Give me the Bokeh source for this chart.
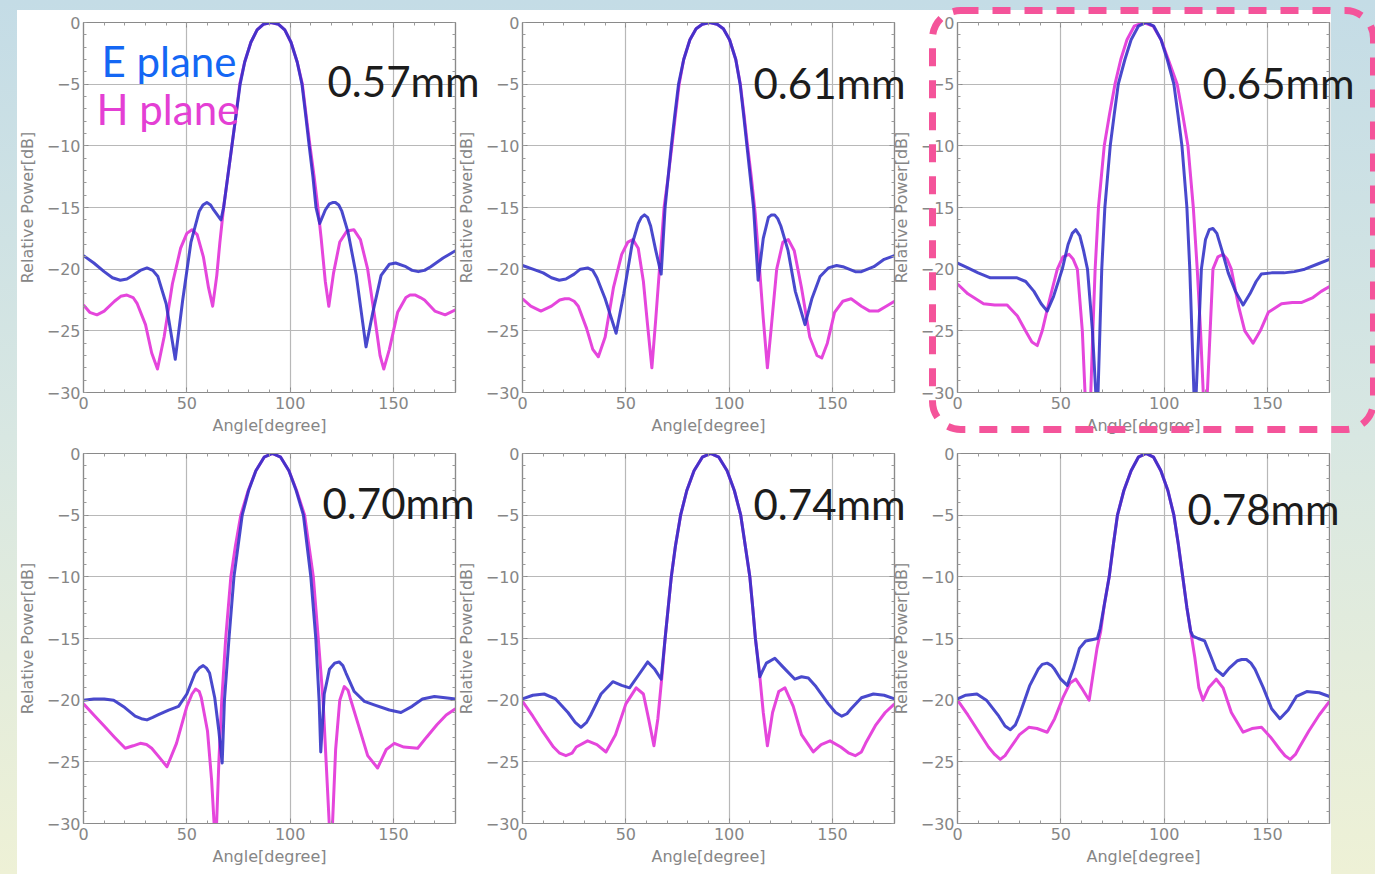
from bokeh.plotting import figure
from bokeh.layouts import row, column
from bokeh.models import Range1d, FixedTicker, LinearAxis, Label, BoxAnnotation
from bokeh.embed import file_html
from bokeh.resources import INLINE

# ---------------- data (angle in degree, relative power in dB) ----------------
# 0.57 mm
e057_ang = [0, 5, 10, 14, 17.8, 21, 24, 27.5, 30.7, 33.5, 36, 40, 44.4, 48, 52, 56, 57.8, 59.7, 61.5, 63, 66.5, 67.8, 69.8, 71.8, 73.8, 75.8,
            78, 81, 84, 87, 90.7, 94.4, 97.4, 100.4, 103.4, 105.7, 107.5, 109.2, 111, 112.5, 114.3, 117, 119, 120.5, 121.9, 123.5, 125, 128,
            132, 136.7, 140, 144, 148, 151, 156, 159, 162, 165, 168, 174, 180]
e057_db = [-18.9, -19.5, -20.2, -20.7, -20.9, -20.8, -20.5, -20.1, -19.9, -20.1, -20.6, -22.8, -27.3, -22.5, -17.8, -15.3, -14.8, -14.6, -14.8, -15.2, -16.0, -15.0, -12.5, -10.0, -7.5, -5.0,
           -3.2, -1.6, -0.6, -0.15, 0, -0.15, -0.6, -1.6, -3.2, -5.0, -7.5, -10.0, -12.5, -15.0, -16.3, -15.2, -14.7, -14.6, -14.6, -14.8, -15.3, -17.0,
           -20.5, -26.3, -23.5, -20.5, -19.6, -19.5, -19.8, -20.1, -20.2, -20.1, -19.8, -19.1, -18.5]
h057_ang = [0, 3, 6.5, 10, 15, 18, 21, 24, 26, 30, 33, 35.8, 39, 43, 47, 50, 52.5, 55, 58, 60.5, 62.5, 64.5,
            66, 67.8, 69.8, 71.8, 73.8, 75.6, 78, 81, 84, 87, 90.7, 94.4, 97.4, 100.4, 103.4, 105.9, 107.7, 109.6, 111.6, 113.4,
            115, 117, 118.7, 121, 124, 127.5, 130.8, 134, 137.5, 141, 143.5, 145.3, 148, 152, 156, 158, 160.6, 163, 165, 170, 175, 180]
h057_db = [-22.9, -23.5, -23.7, -23.4, -22.6, -22.2, -22.1, -22.3, -22.8, -24.5, -26.8, -28.1, -25.5, -21.2, -18.3, -17.1, -16.8, -17.2, -19.0, -21.5, -23.0, -20.5,
           -17.8, -15.0, -12.5, -10.0, -7.5, -5.0, -3.2, -1.6, -0.6, -0.15, 0, -0.15, -0.6, -1.6, -3.2, -5.0, -7.5, -10.0, -12.5, -15.0,
           -17.5, -21.0, -23.0, -20.3, -17.8, -16.9, -16.8, -17.6, -20.0, -24.0, -27.0, -28.1, -26.5, -23.5, -22.3, -22.1, -22.1, -22.3, -22.5, -23.4, -23.7, -23.3]

# 0.61 mm
e061_ang = [0, 5, 10, 14, 17.8, 21, 25, 28, 31.5, 34, 36, 40, 45.3, 49, 53, 56, 57.5, 59, 60.5, 62, 64.5, 67.1, 69, 70.5, 72, 73.7,
            75.5, 78, 81, 84, 87, 90.6, 94.2, 97.2, 100.2, 103.2, 105.3, 107, 108.6, 110.2, 111.8, 114, 116.5, 119, 120.5, 122, 123.5, 125,
            128.5, 132, 136.7, 140, 144, 148, 152, 155, 158, 161, 164, 170, 175, 180]
e061_db = [-19.7, -20.0, -20.3, -20.7, -20.9, -20.8, -20.4, -20.0, -19.9, -20.1, -20.7, -22.4, -25.2, -22.0, -18.0, -16.3, -15.8, -15.6, -15.8, -16.5, -18.5, -20.4, -15.0, -12.5, -10.0, -7.5,
           -5.0, -3.0, -1.4, -0.5, -0.15, 0, -0.15, -0.5, -1.4, -3.0, -5.0, -7.5, -10.0, -12.5, -15.0, -20.9, -17.5, -15.8, -15.6, -15.6, -15.9, -16.5,
           -18.5, -21.8, -24.5, -22.4, -20.6, -19.9, -19.7, -19.8, -20.0, -20.2, -20.2, -19.8, -19.2, -18.9]
h061_ang = [0, 4, 8.9, 14, 18, 20.5, 22.6, 25, 27, 31, 34, 36.7, 40, 44, 48, 51, 53.4, 56, 58.5, 60.5, 62.6, 64.5,
            66.5, 68.5, 70.5, 72.3, 74, 75.8, 78, 81, 84, 87, 90.6, 94.2, 97.2, 100.2, 103.2, 105.4, 107.2, 108.9, 110.7, 112.6,
            114.5, 116.5, 118.5, 120.5, 123, 126, 128.6, 131.5, 135, 139, 142.5, 144.8, 147.5, 151, 155, 159, 164, 168, 172, 176, 180]
h061_db = [-22.4, -23.0, -23.4, -23.0, -22.5, -22.4, -22.4, -22.6, -23.0, -24.8, -26.5, -27.1, -25.5, -21.5, -18.8, -17.8, -17.6, -18.3, -21.0, -24.5, -28.0, -24.0,
           -19.5, -15.0, -12.5, -10.0, -7.5, -5.0, -3.0, -1.4, -0.5, -0.15, 0, -0.15, -0.5, -1.4, -3.0, -5.0, -7.5, -10.0, -12.5, -15.5,
           -19.5, -24.0, -28.0, -24.5, -20.0, -17.8, -17.6, -18.5, -21.5, -25.5, -27.0, -27.2, -26.0, -23.5, -22.6, -22.4, -23.0, -23.4, -23.4, -23.0, -22.6]

# 0.65 mm
e065_ang = [0, 5, 10, 15.9, 22, 28.8, 33, 37, 40.5, 43.4, 46.5, 50.7, 53.5, 55.5, 57.2, 59.2, 61, 62.9, 65.3, 66.9,
            67.5, 68.0, 68.9, 69.8, 71.3, 73.9, 75.8, 77.8, 81, 84, 87.5, 91.2, 95, 98.5, 101.5, 104.7, 106.7, 108.6, 111.0, 112.4,
            113.4, 114.4, 115.0, 115.5, 118, 120, 121.8, 123.6, 125.5, 128, 131, 134.5, 138.2, 141.5, 144.5, 147, 152, 158, 163, 168,
            174, 180]
e065_db = [-19.5, -19.9, -20.3, -20.7, -20.7, -20.7, -21.0, -21.8, -22.8, -23.4, -22.2, -20.0, -18.0, -17.1, -16.8, -17.3, -18.5, -20.0, -25.0, -30.0,
           -40, -30.0, -25.0, -20.0, -15.0, -10.0, -7.5, -5.0, -3.0, -1.4, -0.3, 0, -0.3, -1.4, -3.0, -5.0, -7.5, -10.0, -15.0, -20.0,
           -25.0, -30.0, -40, -30.0, -20.0, -17.6, -16.8, -16.7, -17.1, -18.5, -20.3, -21.8, -22.9, -22.0, -21.0, -20.4, -20.3, -20.3, -20.2, -20.0,
           -19.6, -19.2]
h065_ang = [0, 5, 12.6, 18, 24, 29, 32.9, 36, 38.6, 41, 44.5, 48.3, 51, 54, 56, 58, 60.4, 61.7, 62.8, 64.5,
            65.5, 66.6, 68.2, 71, 73.5, 76.2, 79, 82, 85.5, 90.1, 94.7, 98.5, 102, 106.3, 109, 111.5, 114.1, 116, 117.6, 118.9,
            119.9, 120.9, 123.6, 126, 128.5, 130.5, 132.5, 136, 139, 143, 146.5, 150.4, 156.8, 162, 166.6, 172, 176, 180]
h065_db = [-21.2, -22.0, -22.8, -22.9, -22.9, -23.8, -25.0, -25.9, -26.2, -25.0, -22.5, -20.0, -19.0, -18.8, -19.2, -20.0, -25.0, -30.0, -40, -30.0,
           -25.0, -20.0, -15.0, -10.0, -7.5, -5.0, -3.0, -1.4, -0.3, 0, -0.3, -1.4, -3.0, -5.0, -7.5, -10.0, -15.0, -20.0, -25.0, -30.0,
           -40, -30.0, -20.0, -19.0, -18.8, -19.2, -20.0, -23.0, -25.0, -26.0, -25.0, -23.5, -22.8, -22.7, -22.7, -22.3, -21.8, -21.4]

# 0.70 mm
e070_ang = [0, 5, 10, 14.6, 20, 25, 28, 30.7, 33.5, 36, 41.2, 46, 50, 54, 56, 57.9, 59.5, 61, 63.5, 65.5, 67.1, 68.2, 70.4, 72.8,
            74.8, 76.8, 79.9, 83.4, 87.4, 91.4, 95.4, 99.4, 102.9, 106.4, 108.2, 110, 112.4, 114, 114.8, 116.5, 119, 121.5, 123.7, 125.5, 127,
            131, 135.9, 141, 148, 153.6, 159, 164, 169.8, 175, 180]
e070_db = [-20.0, -19.9, -19.9, -20.0, -20.6, -21.3, -21.5, -21.6, -21.4, -21.2, -20.8, -20.5, -19.5, -17.8, -17.4, -17.2, -17.4, -17.8, -19.8, -22.5, -25.1, -20.0, -15.0, -10.0,
           -7.5, -5.0, -3.0, -1.4, -0.3, 0, -0.3, -1.4, -3.0, -5.0, -7.5, -10.0, -15.0, -20.0, -24.2, -19.5, -17.5, -17.0, -16.9, -17.2, -17.8,
           -19.3, -20.1, -20.4, -20.8, -21.0, -20.5, -19.9, -19.7, -19.8, -19.9]
h070_ang = [0, 5, 10, 15, 20.2, 24, 27.5, 30.5, 33, 37, 40.4, 45, 50, 52.5, 54.2, 56, 57, 60, 62, 63.2, 63.8, 64.4,
            65.5, 66.9, 68.8, 71.3, 73.5, 76.1, 79.7, 83.4, 87.4, 91.4, 95.4, 99.4, 103.1, 107.0, 109.1, 111.2, 113.6, 115.9, 117.4, 118.9,
            119.6, 120.5, 122, 124, 126.2, 128, 129, 133, 137.5, 142.3, 146.5, 150.4, 155, 161.7, 166, 171, 175.5, 180]
h070_db = [-20.3, -21.2, -22.1, -23.0, -23.9, -23.7, -23.5, -23.6, -23.9, -24.7, -25.4, -23.5, -20.5, -19.5, -19.1, -19.3, -19.8, -22.5, -26.5, -30.0, -40, -30.0,
           -25.0, -20.0, -15.0, -10.0, -7.5, -5.0, -3.0, -1.4, -0.3, 0, -0.3, -1.4, -3.0, -5.0, -7.5, -10.0, -15.0, -20.0, -25.0, -30.0,
           -40, -30.0, -24.0, -20.0, -18.9, -19.2, -19.8, -22.0, -24.5, -25.5, -24.0, -23.5, -23.8, -23.9, -23.0, -22.0, -21.2, -20.7]

# 0.74 mm
e074_ang = [0, 5, 10.5, 16, 22, 25.5, 28.3, 31, 33, 38, 43.7, 48, 51.8, 56, 60.6, 64, 67.1, 69, 70.5, 72, 74, 76.5, 79.5,
            83, 87, 91, 95, 99, 102.5, 105.6, 107.8, 110, 111.4, 112.7, 114.8, 118, 122.1, 126, 131.8, 135, 138.3, 142, 148, 151.5, 154.5,
            157, 159, 164, 169.8, 175, 180]
e074_db = [-19.9, -19.6, -19.5, -19.9, -21.0, -21.8, -22.2, -21.8, -21.2, -19.5, -18.5, -18.8, -19.0, -18.0, -16.9, -17.5, -18.3, -15.0, -12.5, -10.0, -7.5, -5.0, -3.0,
           -1.4, -0.3, 0, -0.3, -1.4, -3.0, -5.0, -7.5, -10.0, -12.5, -15.0, -18.1, -17.0, -16.6, -17.3, -18.3, -18.1, -18.2, -18.9, -20.3, -21.0, -21.3,
           -21.1, -20.7, -19.8, -19.5, -19.6, -19.9]
h074_ang = [0, 5, 10, 15, 18, 21, 24, 26, 31.5, 36, 40.4, 45, 50, 55, 58.5, 61, 63.6, 65.5, 67.5, 69, 70.5, 72, 74,
            76.5, 79.5, 83, 87, 91, 95, 99, 102.5, 105.6, 107.8, 110, 111.4, 112.7, 114.5, 116.5, 118.5, 121, 124, 127, 131, 135,
            140.7, 144.5, 148.8, 154, 158, 161, 164, 166, 171, 175.5, 180]
h074_db = [-20.1, -21.3, -22.6, -23.8, -24.3, -24.5, -24.3, -23.8, -23.3, -23.6, -24.2, -22.8, -20.3, -19.0, -19.5, -21.5, -23.7, -21.5, -18.0, -15.0, -12.5, -10.0, -7.5,
           -5.0, -3.0, -1.4, -0.3, 0, -0.3, -1.4, -3.0, -5.0, -7.5, -10.0, -12.5, -15.0, -17.5, -21.0, -23.7, -21.0, -19.3, -19.0, -20.5, -22.8,
           -24.2, -23.6, -23.3, -23.8, -24.3, -24.5, -24.2, -23.5, -22.0, -21.0, -20.3]

# 0.78 mm
e078_ang = [0, 4, 9.4, 14, 20, 23, 25.6, 28, 30, 35, 39, 41, 43.4, 45.5, 47, 50, 53.1, 56, 59, 62, 65, 67.7, 69, 71,
            73.4, 75.4, 77.4, 80.5, 84, 87.5, 91.2, 94.9, 98.4, 101.8, 104.7, 106.8, 109, 111, 112.8, 113.9, 116.5, 119.6, 122, 125,
            128.5, 131.5, 135.5, 137.5, 139.8, 142, 144, 148, 152, 156, 160, 164, 169, 175, 180]
e078_db = [-19.9, -19.6, -19.5, -20.0, -21.3, -22.1, -22.4, -22.0, -21.2, -18.8, -17.5, -17.1, -17.0, -17.2, -17.5, -18.3, -18.8, -17.5, -15.8, -15.2, -15.1, -15.0, -14.2, -12.3,
           -10.0, -7.4, -5.0, -3.0, -1.4, -0.3, 0, -0.3, -1.4, -3.0, -5.0, -7.3, -10.0, -12.5, -14.4, -14.8, -15.0, -15.2, -16.2, -17.5,
           -18.0, -17.4, -16.8, -16.7, -16.7, -17.0, -17.5, -19.0, -20.7, -21.5, -20.8, -19.7, -19.3, -19.4, -19.7]
h078_ang = [0, 5, 10, 15, 18, 20.7, 23, 25, 30, 34.5, 38.5, 43.4, 47, 51, 54.5, 57.2, 60, 63.7, 65.5, 67.5, 69.3, 71,
            73.4, 75.4, 77.4, 80.5, 84, 87.5, 91.2, 94.9, 98.4, 101.8, 104.7, 106.8, 109, 111, 112.8, 114.8, 116.8, 118.8, 121.5, 125.2,
            128.5, 132.5, 138.2, 142.5, 147.1, 151.5, 156, 158.5, 161, 163.5, 165.5, 170, 175, 180]
h078_db = [-20.0, -21.2, -22.5, -23.8, -24.4, -24.8, -24.5, -24.0, -22.8, -22.2, -22.3, -22.6, -21.5, -19.8, -18.6, -18.3, -19.0, -20.0, -18.0, -15.8, -14.4, -12.3,
           -10.0, -7.4, -5.0, -3.0, -1.4, -0.3, 0, -0.3, -1.4, -3.0, -5.0, -7.3, -10.0, -12.5, -14.4, -16.5, -19.0, -20.0, -19.0, -18.3,
           -19.0, -21.0, -22.6, -22.3, -22.2, -23.0, -24.0, -24.5, -24.8, -24.4, -23.8, -22.5, -21.2, -20.1]

panel_labels = ["0.57mm", "0.61mm", "0.65mm", "0.70mm", "0.74mm", "0.78mm"]
legend_labels = ["E plane", "H plane"]

x_major = [0, 50, 100, 150]
x_minor = list(range(0, 181, 10))
y_major = [-30, -25, -20, -15, -10, -5, 0]
y_minor = list(range(-30, 1))

# ---------------- styling ----------------
E_COLOR = "#3030c6"
H_COLOR = "#e546dc"
GRAY = "#868686"
TICK_FONT = "DejaVu Sans"
PAGE_W, PAGE_H = 1375, 874


def style_axis(ax, ticker, labels=True):
    ax.ticker = ticker
    ax.axis_line_color = "#8a8a8a"
    ax.axis_line_width = 1.2
    ax.major_tick_in = 5
    ax.major_tick_out = 0
    ax.minor_tick_in = 3
    ax.minor_tick_out = 0
    ax.major_tick_line_color = "#8a8a8a"
    ax.minor_tick_line_color = "#9a9a9a"
    ax.major_label_text_font = TICK_FONT
    ax.major_label_text_font_size = "16px"
    ax.major_label_text_color = GRAY
    ax.axis_label_text_font = TICK_FONT
    ax.axis_label_text_font_size = "16px"
    ax.axis_label_text_font_style = "normal"
    ax.axis_label_text_color = GRAY
    if not labels:
        ax.major_label_overrides = {v: "" for v in ticker.ticks}
        ax.major_label_standoff = 0


def make_panel(e_ang, e_db, h_ang, h_db, width, height, left, right, top, bottom, margin):
    assert len(e_ang) == len(e_db) and len(h_ang) == len(h_db)
    p = figure(width=width, height=height, x_range=Range1d(0, 180), y_range=Range1d(-30, 0),
               output_backend="svg", toolbar_location=None,
               min_border_left=left, min_border_right=right, min_border_top=top, min_border_bottom=bottom,
               margin=margin)
    p.border_fill_alpha = 0
    p.background_fill_color = "white"
    p.outline_line_color = "#8a8a8a"
    p.outline_line_width = 1.2
    p.grid.grid_line_color = "#b8b8b8"
    p.grid.grid_line_width = 1.2
    p.xgrid.ticker = FixedTicker(ticks=x_major)
    p.ygrid.ticker = FixedTicker(ticks=y_major)

    style_axis(p.xaxis[0], FixedTicker(ticks=x_major, minor_ticks=x_minor))
    p.xaxis[0].axis_label = "Angle[degree]"
    p.xaxis[0].major_label_standoff = 4
    p.xaxis[0].axis_label_standoff = 4
    style_axis(p.yaxis[0], FixedTicker(ticks=y_major, minor_ticks=y_minor))
    p.yaxis[0].axis_label = "Relative Power[dB]"
    p.yaxis[0].major_label_standoff = 3
    p.yaxis[0].axis_label_standoff = 7
    p.yaxis[0].major_label_overrides = {v: ("\u2212" + str(-v) if v < 0 else str(v)) for v in y_major}

    top_ax = LinearAxis()
    style_axis(top_ax, FixedTicker(ticks=x_major, minor_ticks=x_minor), labels=False)
    p.add_layout(top_ax, "above")
    right_ax = LinearAxis()
    style_axis(right_ax, FixedTicker(ticks=y_major, minor_ticks=y_minor), labels=False)
    p.add_layout(right_ax, "right")

    p.line(h_ang, h_db, line_color=H_COLOR, line_width=3, line_join="round")
    p.line(e_ang, e_db, line_color=E_COLOR, line_width=3, line_join="round", line_alpha=0.88)
    return p


# row 1 (canvas height 440): frames at y 22..392 ; row 2 (height 434): frames at y 453..823
f1 = make_panel(e057_ang, e057_db, h057_ang, h057_db, 490, 440, 83, 35, 22, 48, None)
f2 = make_panel(e061_ang, e061_db, h061_ang, h061_db, 470, 440, 72, 26, 22, 48, (0, 0, 0, -40))
f3 = make_panel(e065_ang, e065_db, h065_ang, h065_db, 490, 440, 72, 46, 22, 48, (0, 0, 0, -35))
f4 = make_panel(e070_ang, e070_db, h070_ang, h070_db, 490, 434, 83, 35, 13, 51, None)
f5 = make_panel(e074_ang, e074_db, h074_ang, h074_db, 470, 434, 72, 26, 13, 51, (0, 0, 0, -40))
f6 = make_panel(e078_ang, e078_db, h078_ang, h078_db, 490, 434, 72, 46, 13, 51, (0, 0, 0, -35))

# transparent overlay covering the whole page (page pixel coordinates, y measured upward)
ov = figure(width=PAGE_W, height=PAGE_H, x_range=Range1d(0, PAGE_W), y_range=Range1d(0, PAGE_H),
            output_backend="svg", toolbar_location=None, x_axis_location=None, y_axis_location=None,
            min_border=0, margin=(-PAGE_H, 0, 0, 0))
ov.outline_line_color = None
ov.background_fill_alpha = 0
ov.border_fill_alpha = 0
ov.grid.visible = False


def big_label(text, x, y_top_down, color="#1c1c1c"):
    ov.add_layout(Label(x=x, y=PAGE_H - y_top_down, text=text, text_font="Lato", text_font_size="42px",
                        text_color=color, text_baseline="alphabetic", text_align="left"))


big_label(legend_labels[0], 101, 60, "#1467f4")
big_label(legend_labels[1], 96, 108, "#e43fd4")
big_label(panel_labels[0], 327, 80)
big_label(panel_labels[1], 753, 82)
big_label(panel_labels[2], 1202, 82)
big_label(panel_labels[3], 322, 502)
big_label(panel_labels[4], 753, 503)
big_label(panel_labels[5], 1187, 508)

# highlight of the 0.65 mm panel
ov.add_layout(BoxAnnotation(left=932, right=1373, top=PAGE_H - 10, bottom=PAGE_H - 429,
                            fill_alpha=0, line_color="#f4549a", line_alpha=1.0, line_width=7,
                            line_dash="18 14", border_radius=28))

r1 = row(f1, f2, f3, width=PAGE_W, height=440)
r2 = row(f4, f5, f6, width=PAGE_W, height=434)
root = column(r1, r2, ov, width=PAGE_W, height=PAGE_H,
              styles={"background": "linear-gradient(#ffffff, #ffffff) 17px 10px / 1314px 864px no-repeat, "
                                    "linear-gradient(180deg, #c4dce6 0%, #d8e7e2 50%, #eef1d6 100%)"})

open("out.html", "w").write(file_html(root, INLINE))
